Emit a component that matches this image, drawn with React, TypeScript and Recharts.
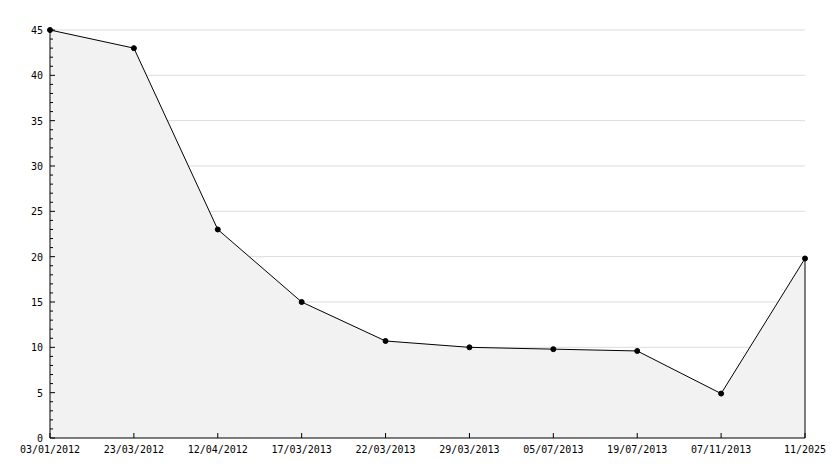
import {
  ComposedChart,
  Area,
  XAxis,
  YAxis,
  CartesianGrid,
  ReferenceLine,
} from "recharts";

const fechas = [
  "03/01/2012",
  "23/03/2012",
  "12/04/2012",
  "17/03/2013",
  "22/03/2013",
  "29/03/2013",
  "05/07/2013",
  "19/07/2013",
  "07/11/2013",
  "11/2025",
];

const valores = [45, 43, 23, 15, 10.7, 10, 9.8, 9.6, 4.9, 19.8];

const yTicks = Array.from({ length: 46 }, (_, i) => i);
const gridValues = [5, 10, 15, 20, 25, 30, 35, 40, 45];

const data = fechas.map((f, i) => ({ fecha: f, valor: valores[i] }));

const font = "'DejaVu Sans Mono', monospace";

function YTick(props: any) {
  const { x, y, payload } = props;
  const major = payload.value % 5 === 0;
  return (
    <g>
      <line x1={x} x2={x + (major ? 5 : 3)} y1={y} y2={y} stroke="#000" />
      {major && (
        <text
          x={x - 7}
          y={y}
          dy={4}
          textAnchor="end"
          fontSize={10}
          fontFamily={font}
          fill="#000"
        >
          {payload.value}
        </text>
      )}
    </g>
  );
}

function XTick(props: any) {
  const { x, y, payload } = props;
  return (
    <g>
      <line x1={x} x2={x} y1={y} y2={y - 5} stroke="#000" />
      <text
        x={x}
        y={y}
        dy={15}
        textAnchor="middle"
        fontSize={10}
        fontFamily={font}
        fill="#000"
      >
        {payload.value}
      </text>
    </g>
  );
}

export default function App() {
  const last = data[data.length - 1];
  return (
    <div style={{ position: "absolute", left: 0, top: 0, background: "#fff" }}>
      <ComposedChart
        width={834}
        height={468}
        data={data}
        margin={{ top: 30, right: 29, left: 0, bottom: 0 }}
      >
        <CartesianGrid
          vertical={false}
          stroke="#dcdcdc"
          horizontalValues={gridValues}
        />
        <XAxis
          dataKey="fecha"
          height={30}
          interval={0}
          tickSize={0}
          tickMargin={0}
          tick={<XTick />}
          axisLine={{ stroke: "#000" }}
        />
        <YAxis
          width={50}
          domain={[0, 45]}
          ticks={yTicks}
          interval={0}
          tickSize={0}
          tickMargin={0}
          tick={<YTick />}
          axisLine={{ stroke: "#000" }}
        />
        <Area
          type="linear"
          dataKey="valor"
          stroke="#000"
          strokeWidth={1}
          fill="#f2f2f2"
          fillOpacity={1}
          dot={{ r: 2.5, fill: "#000", stroke: "#000", strokeWidth: 1 }}
          activeDot={false}
          isAnimationActive={false}
        />
        <ReferenceLine
          segment={[
            { x: last.fecha, y: 0 },
            { x: last.fecha, y: last.valor },
          ]}
          stroke="#000"
        />
      </ComposedChart>
    </div>
  );
}
